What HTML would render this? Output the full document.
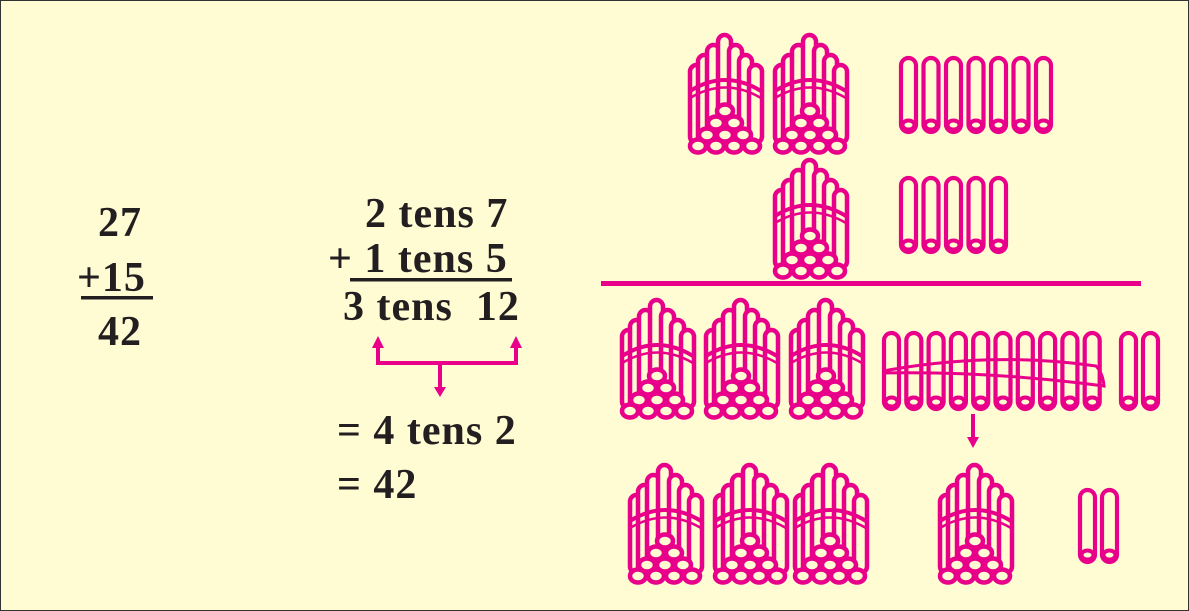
<!DOCTYPE html>
<html><head><meta charset="utf-8"><style>
body{margin:0;background:#fff}
#wrap{position:relative;width:1189px;height:611px;background:#fffbd3;box-sizing:border-box;border:1px solid #333;overflow:hidden}
.t{position:absolute;font-family:"Liberation Serif",serif;font-weight:bold;font-size:42px;letter-spacing:1px;color:#231f20;white-space:pre;line-height:1}
svg{position:absolute;left:0;top:0}
</style></head><body>
<div id="wrap">
<div class="t" style="left:97px;top:201px">27</div>
<div class="t" style="left:76px;top:256px">+15</div>
<div class="t" style="left:97px;top:310px">42</div>
<div class="t" style="left:364px;top:192px">2 tens 7</div>
<div class="t" style="left:327px;top:237px">+ 1 tens 5</div>
<div class="t" style="left:342px;top:285px">3 tens  12</div>
<div class="t" style="left:336px;top:409px">= 4 tens 2</div>
<div class="t" style="left:336px;top:463px">= 42</div>
<svg id="s" width="1189" height="611">
<rect x="80" y="295" width="72" height="3.5" fill="#231f20"/>
<rect x="349" y="277" width="162" height="3.5" fill="#231f20"/>
<rect x="600" y="280" width="540" height="5" fill="#e8008a"/>
<g fill="none" stroke="#e8008a" stroke-width="4">
<path d="M377 345 V362 H515 V345 M439 362 V388 M972 413 V438"/>
</g>
<g fill="#e8008a">
<path d="M371 347 L377 335 L383 347Z M509 347 L515 335 L521 347Z M433 386 L439 396 L445 386Z M966 436 L972 447 L978 436Z"/>
</g>
</svg>
</div>
<script>
const bundles=[[686,30],[771,30],[771,155],[618,295],[702,295],[787,295],[626,460],[711,460],[791,460],[936,460]];
const sticks=[];
for(let i=0;i<7;i++)sticks.push([898+i*22.5,55,78]);
for(let i=0;i<5;i++)sticks.push([898+i*22.5,175,78]);
for(let i=0;i<10;i++)sticks.push([881+i*22.3,330,80]);
sticks.push([1118,330,80]);sticks.push([1140,330,80]);
sticks.push([1077,487,76]);sticks.push([1099,487,76]);
const NS="http://www.w3.org/2000/svg",svg=document.getElementById('s');
const P="#e8008a",BG="#fffbd3";
function mk(tag,a,par){const e=document.createElementNS(NS,tag);for(const k in a)e.setAttribute(k,a[k]);(par||svg).appendChild(e);return e;}
function stick(x,y,h,par){
  const g=mk('g',{},par);
  mk('rect',{x:x+2,y:y+2,width:15,height:h-4,rx:7.5,fill:BG,stroke:P,'stroke-width':4.2},g);
  mk('ellipse',{cx:x+9.5,cy:y+h-9,rx:6,ry:4.5,fill:BG,stroke:P,'stroke-width':4},g);
  return g;
}
bundles.forEach(([bx,by])=>{
  const g=mk('g',{transform:`translate(${bx},${by})`});
  
  
  const tubes=[[1,32],[9,22],[18,12],[29,2],[40,12],[50,22],[60,32]];
  tubes.forEach(([tx,ty])=>mk('rect',{x:tx+2,y:ty+2,width:13,height:110-ty,rx:6.5,fill:BG,stroke:P,'stroke-width':4.5},g));
  mk('path',{d:'M3 60 Q38 38 74 60',fill:'none',stroke:P,'stroke-width':4},g);
  mk('path',{d:'M3 67 Q38 46 74 67',fill:'none',stroke:P,'stroke-width':2.5},g);
  const circ=[[38,80],[29,92],[47,92],[20,104],[38,104],[56,104],[11,115],[29,115],[47,115],[65,115]];
  circ.forEach(([cx,cy])=>mk('ellipse',{cx,cy,rx:8,ry:6.5,fill:BG,stroke:P,'stroke-width':4.5},g));
});
sticks.forEach(([x,y,h])=>{
  const g=stick(x,y,h);
  
  
});
const band=mk('path',{d:'M882 370 Q990 350 1095 365 Q1102 372 1103 385 Q990 370 882 372',fill:'none',stroke:P,'stroke-width':3});


</script>
</body></html>
